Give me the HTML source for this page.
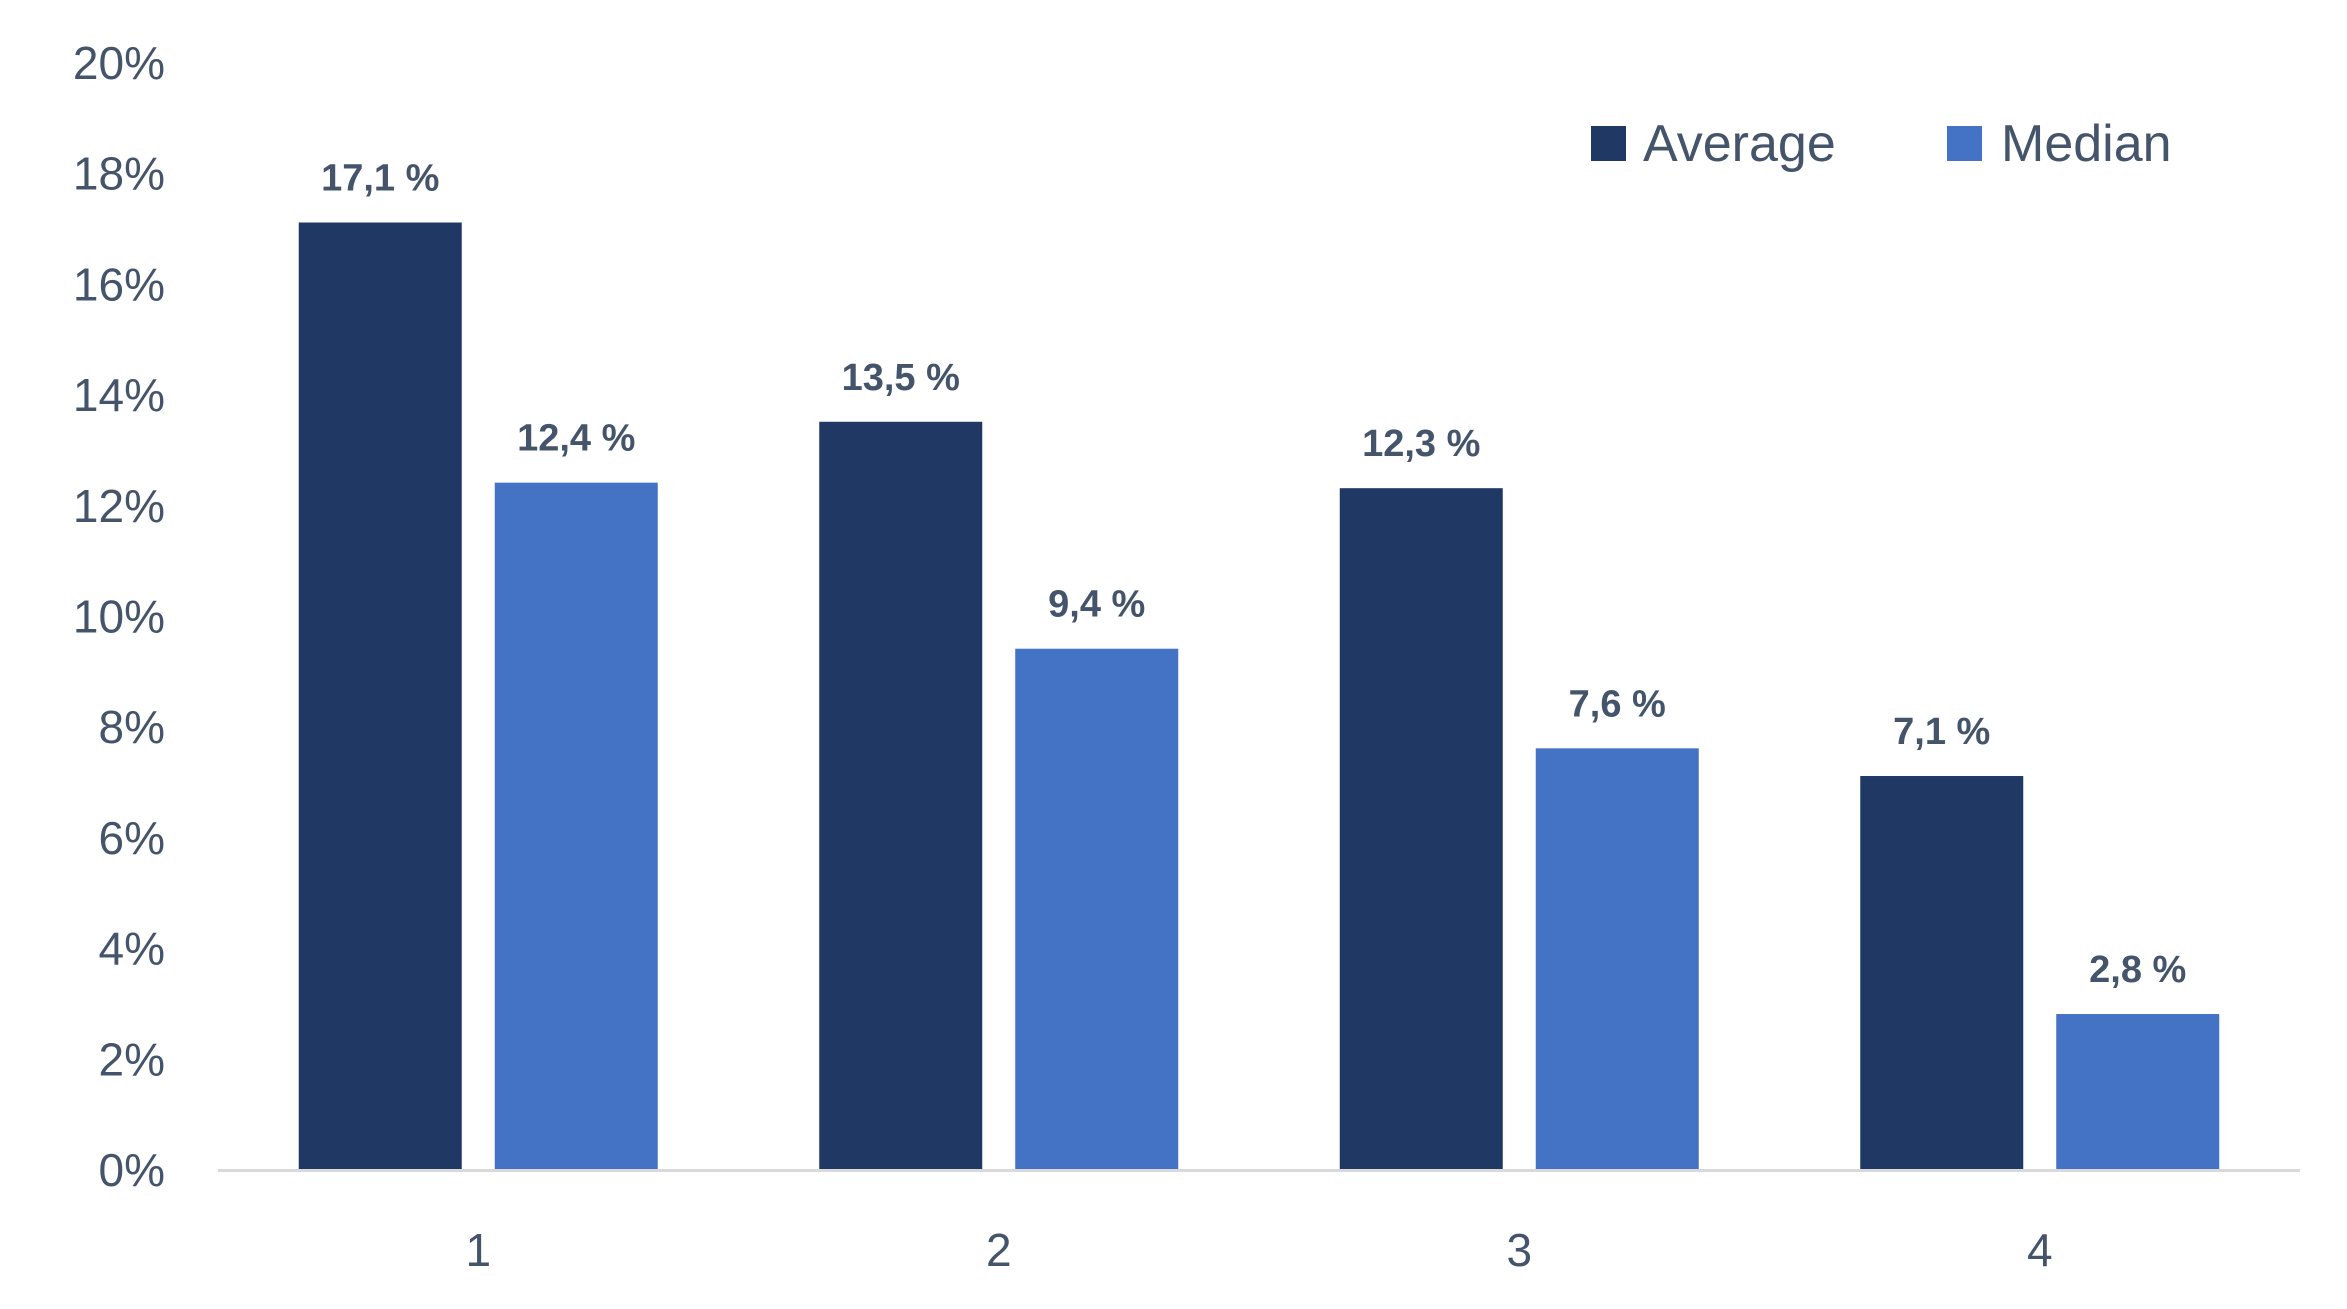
<!DOCTYPE html>
<html><head><meta charset="utf-8"><style>
html,body{margin:0;padding:0;background:#fff;}
svg{display:block;font-family:"Liberation Sans",sans-serif;}
</style></head><body>
<svg id="chart" width="2347" height="1309" viewBox="0 0 2347 1309">
<g id="yaxis"></g>
<g id="bars"></g>
<g id="xaxis"></g>
<g>
 <g>
  <rect x="1591" y="126" width="35" height="35" fill="#203864"/>
  <text x="1643" y="161" font-size="52" fill="#44546a">Average</text>
 </g>
 <g>
  <rect x="1947" y="126" width="35" height="35" fill="#4472c4"/>
  <text x="2001" y="161" font-size="52" fill="#44546a">Median</text>
 </g>
</g>
</svg>
<script>
const categories = ["1","2","3","4"];
const averageValues = [17.1, 13.5, 12.3, 7.1];
const medianValues = [12.4, 9.4, 7.6, 2.8];
const averageLabels = ["17,1 %","13,5 %","12,3 %","7,1 %"];
const medianLabels = ["12,4 %","9,4 %","7,6 %","2,8 %"];
const yTicks = [0,2,4,6,8,10,12,14,16,18,20];
const yTickLabels = ["0%","2%","4%","6%","8%","10%","12%","14%","16%","18%","20%"];

const NS = "http://www.w3.org/2000/svg";
const plotL = 218, plotR = 2300, y0 = 1169, yTop = 62, yMax = 20;
const yScale = v => y0 - (v / yMax) * (y0 - yTop);
const bandW = (plotR - plotL) / categories.length;
const xCenter = i => plotL + bandW * (i + 0.5);
const barW = 163, gap = 33;

function mk(tag, attrs, parent) {
  const e = document.createElementNS(NS, tag);
  for (const k in attrs) e.setAttribute(k, attrs[k]);
  parent.appendChild(e);
  return e;
}
const yAxis = document.getElementById("yaxis");
const barsG = document.getElementById("bars");
const xAxis = document.getElementById("xaxis");

yTicks.forEach((t, i) => {
  const tx = mk("text", {x: 165, y: yScale(t) + 17, "font-size": 46, fill: "#44546a", "text-anchor": "end"}, yAxis);
  
  
  tx.textContent = yTickLabels[i];
});

categories.forEach((c, i) => {
  const cx = xCenter(i);
  const series = [
    {v: averageValues[i], l: averageLabels[i], x: cx - gap / 2 - barW, fill: "#203864", n: "average"},
    {v: medianValues[i], l: medianLabels[i], x: cx + gap / 2, fill: "#4472c4", n: "median"}
  ];
  series.forEach(s => {
    const r = mk("rect", {x: s.x, y: yScale(s.v), width: barW, height: y0 - yScale(s.v), fill: s.fill}, barsG);
    
    
    const t = mk("text", {x: s.x + barW / 2, y: yScale(s.v) - 32, "font-size": 38, "font-weight": "bold", fill: "#44546a", "text-anchor": "middle"}, barsG);
    
    
    t.textContent = s.l;
  });
  const ct = mk("text", {x: cx, y: 1266, "font-size": 46, fill: "#44546a", "text-anchor": "middle"}, xAxis);
  
  
  ct.textContent = c;
});

const axisLine = mk("line", {x1: plotL, x2: plotR, y1: y0 + 1.5, y2: y0 + 1.5, stroke: "#d9d9d9", "stroke-width": 3}, xAxis);


</script>
</body></html>
